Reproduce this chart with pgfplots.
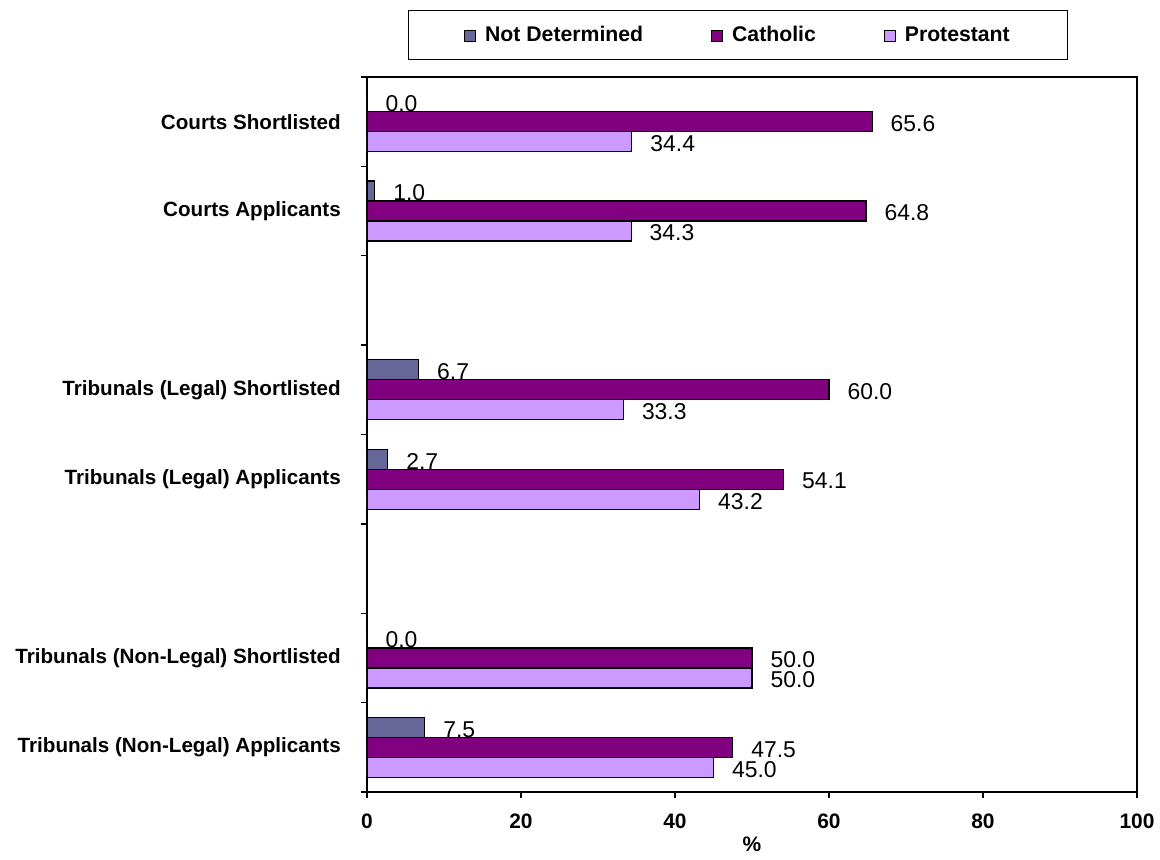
\documentclass[border=0pt]{standalone}
\usepackage{pgfplots}
\pgfplotsset{compat=1.18}
\usepackage{fontspec}
\setmainfont{Liberation Sans}
\definecolor{nd}{HTML}{666699}
\definecolor{cath}{HTML}{800080}
\definecolor{prot}{HTML}{CC99FF}
\begin{document}
\begin{tikzpicture}
\begin{axis}[
  scale only axis, width=770bp, height=715bp,
  xbar, bar width=0.2237,
  xmin=0, xmax=100, ymin=0.5, ymax=8.5,
  axis line style={black, line width=1.3bp},
  tick style={black, line width=1.3bp},
  tick align=outside, major tick length=6bp,
  xtick pos=left, ytick pos=left,
  xtick={0,20,...,100},
  /pgf/number format/assume math mode=true,
  xticklabel style={font=\bfseries\fontsize{21}{25}\selectfont, inner sep=0pt, yshift=-16bp},
  ytick={0.5,1.5,...,8.5}, yticklabels={},
  extra y ticks={1,2,4,5,7,8},
  extra y tick labels={Tribunals (Non-Legal) Applicants, Tribunals (Non-Legal) Shortlisted, Tribunals (Legal) Applicants, Tribunals (Legal) Shortlisted, Courts Applicants, Courts Shortlisted},
  extra y tick style={tick style={draw=none}},
  yticklabel style={font=\bfseries\fontsize{20.7}{24}\selectfont, inner sep=0pt, xshift=-20bp},
  xlabel={\%},
  xlabel style={font=\bfseries\fontsize{21}{25}\selectfont, yshift=-4bp},
  point meta=x,
  nodes near coords={\pgfmathprintnumber[fixed,zerofill,precision=1]{\pgfplotspointmeta}},
  nodes near coords style={font=\fontsize{23}{27}\selectfont, anchor=west, inner sep=0pt, xshift=18bp, yshift=-2bp},
  legend columns=3,
  legend style={at={(0.4818,1.0587)}, anchor=center, draw=black, line width=1.2bp,
    font=\bfseries\fontsize{21.3}{25}\selectfont, inner xsep=56bp, inner ysep=14bp,
    cells={anchor=west, inner sep=0pt},
    /tikz/every odd column/.append style={column sep=7bp},
    /tikz/every even column/.append style={column sep=66bp}},
  legend image code/.code={\draw[#1, line width=1bp] (0bp,-6.3bp) rectangle (11bp,4.7bp);},
]
\addplot[fill=nd, draw=black, line width=1.2bp, bar shift=0.2237] coordinates {(0.0,8) (1.0,7) (6.7,5) (2.7,4) (0.0,2) (7.5,1)};
\addplot[fill=cath, draw=black, line width=1.2bp, bar shift=0] coordinates {(65.6,8) (64.8,7) (60.0,5) (54.1,4) (50.0,2) (47.5,1)};
\addplot[fill=prot, draw=black, line width=1.2bp, bar shift=-0.2237] coordinates {(34.4,8) (34.3,7) (33.3,5) (43.2,4) (50.0,2) (45.0,1)};
\legend{Not Determined, Catholic, Protestant}
\end{axis}
\path (-367bp,-68bp) rectangle (793bp,792bp);
\end{tikzpicture}
\end{document}
